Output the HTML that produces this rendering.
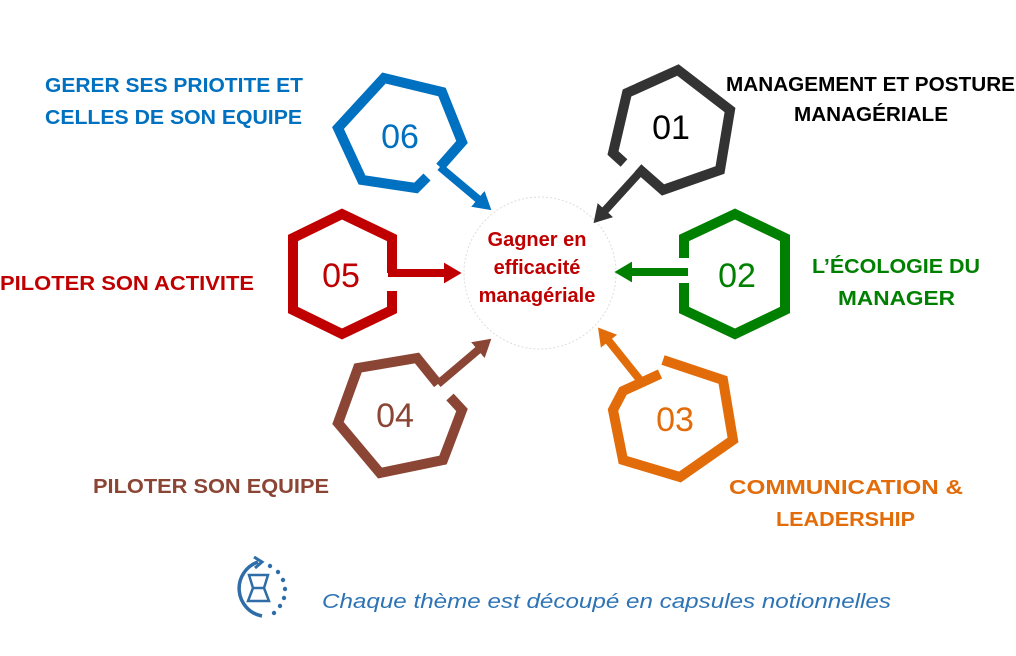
<!DOCTYPE html>
<html><head><meta charset="utf-8"><style>
html,body{margin:0;padding:0;background:#fff;}
svg{display:block;}
text{font-family:"Liberation Sans",sans-serif;}
</style></head><body>
<svg width="1016" height="656" viewBox="0 0 1016 656" xmlns="http://www.w3.org/2000/svg">
<defs>
<marker id="a" markerWidth="3" markerHeight="3" refX="1" refY="1.5" orient="auto" markerUnits="strokeWidth"><path d="M0,0.2 L2.2,1.5 L0,2.8 Z" fill="context-stroke"/></marker>
</defs>
<circle cx="540" cy="273" r="76" fill="none" stroke="#ddd" stroke-width="1" stroke-dasharray="2,2"/>
<g fill="none" stroke-width="10" stroke-linejoin="miter">
<polyline stroke="#c00000" points="392,291 392,310 342,334 293,310 293,238 342,214 392,238 392,273"/>
<line stroke="#c00000" x1="388" y1="273" x2="452" y2="273" marker-end="url(#a)" stroke-width="8"/>
<polyline stroke="#008000" points="684,258 684,238 735,214 785,238 785,310 735,334 684,310 684,283"/>
<line stroke="#008000" x1="688" y1="272" x2="624" y2="272" marker-end="url(#a)" stroke-width="8"/>
<polyline stroke="#0070c0" points="440,167 462,142 442,92 384,78 338,128 362,180 416,188 427,177"/>
<line stroke="#0070c0" x1="440" y1="167" x2="484" y2="204" marker-end="url(#a)" stroke-width="8"/>
<polyline stroke="#333333" points="624,163 613,153 627,93 678,70 730,110 720,170 663,190 638,168"/>
<line stroke="#333333" x1="640" y1="172" x2="600" y2="216" marker-end="url(#a)" stroke-width="8"/>
<polyline stroke="#e36c0a" points="660,374 623,391 613,410 623,460 680,477 733,440 723,380 663,360"/>
<line stroke="#e36c0a" x1="640" y1="380" x2="604" y2="335" marker-end="url(#a)" stroke-width="8"/>
<polyline stroke="#8b4535" points="450,397 462,410 443,460 380,473 338,423 358,368 417,358 438,384"/>
<line stroke="#8b4535" x1="438" y1="384" x2="484" y2="345" marker-end="url(#a)" stroke-width="8"/>
</g>
<g font-size="34" text-anchor="middle">
<text x="400" y="148" fill="#0070c0">06</text>
<text x="671" y="139" fill="#000">01</text>
<text x="341" y="287" fill="#c00000">05</text>
<text x="737" y="287" fill="#008000">02</text>
<text x="395" y="427" fill="#8b4535">04</text>
<text x="675" y="431" fill="#e36c0a">03</text>
</g>
<g font-weight="bold" font-size="20" text-anchor="middle" fill="#c00000">
<text x="537" y="246">Gagner en</text>
<text x="537" y="274">efficacité</text>
<text x="537" y="302">managériale</text>
</g>
<g font-weight="bold" font-size="20">
<text x="45" y="92" fill="#0070c0" textLength="258" lengthAdjust="spacingAndGlyphs">GERER SES PRIOTITE ET</text>
<text x="45" y="124" fill="#0070c0" textLength="257" lengthAdjust="spacingAndGlyphs">CELLES DE SON EQUIPE</text>
<text x="726" y="91" fill="#000" textLength="289" lengthAdjust="spacingAndGlyphs">MANAGEMENT ET POSTURE</text>
<text x="794" y="121" fill="#000" textLength="154" lengthAdjust="spacingAndGlyphs">MANAGÉRIALE</text>
<text x="0" y="290" fill="#c00000" textLength="254" lengthAdjust="spacingAndGlyphs">PILOTER SON ACTIVITE</text>
<text x="812" y="273" fill="#008000" textLength="168" lengthAdjust="spacingAndGlyphs">L’ÉCOLOGIE DU</text>
<text x="838" y="305" fill="#008000" textLength="117" lengthAdjust="spacingAndGlyphs">MANAGER</text>
<text x="93" y="493" fill="#8b4535" textLength="236" lengthAdjust="spacingAndGlyphs">PILOTER SON EQUIPE</text>
<text x="729" y="494" fill="#e36c0a" textLength="234" lengthAdjust="spacingAndGlyphs">COMMUNICATION &amp;</text>
<text x="776" y="526" fill="#e36c0a" textLength="139" lengthAdjust="spacingAndGlyphs">LEADERSHIP</text>
</g>
<text x="322" y="608" font-size="20" font-style="italic" fill="#2e74b5" textLength="569" lengthAdjust="spacingAndGlyphs">Chaque thème est découpé en capsules notionnelles</text>
<g fill="none" stroke="#2e6da8" stroke-width="3.5">
<path d="M262,616 A28,28 0 0 1 258,562"/>
<path d="M254,557 L262,562 L255,568" stroke-width="3"/>
<path d="M249,575 L268,575 L264,588 L253,588 Z M253,588 L248,601 L269,601 L264,588" stroke-width="2.5"/>
</g>
<g fill="#2e6da8">
<circle cx="270" cy="566" r="2.2"/><circle cx="278" cy="572" r="2.2"/><circle cx="283" cy="580" r="2.2"/>
<circle cx="285" cy="589" r="2.2"/><circle cx="284" cy="598" r="2.2"/><circle cx="280" cy="606" r="2.2"/>
<circle cx="274" cy="613" r="2.2"/>
</g>
</svg>
</body></html>
